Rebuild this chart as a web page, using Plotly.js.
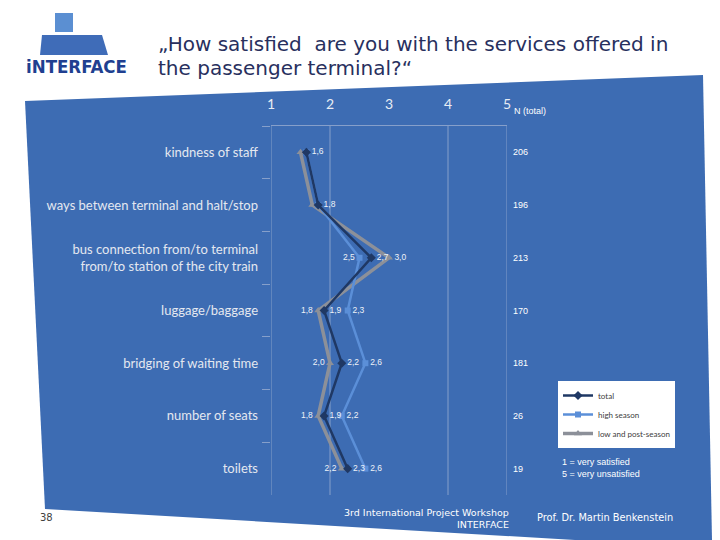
<!DOCTYPE html>
<html>
<head>
<meta charset="utf-8">
<script src="https://cdn.plot.ly/plotly-3.0.1.min.js"></script>
<style>html,body{margin:0;padding:0;background:#fff;}#chart{width:720px;height:540px;}</style>
</head>
<body>
<div id="chart"></div>
<script>
// ---- data ----
const categories = [
  "kindness of staff",
  "ways between terminal and halt/stop",
  "bus connection from/to terminal<br>from/to station of the city train",
  "luggage/baggage",
  "bridging of waiting time",
  "number of seats",
  "toilets"
];
const total      = [1.6, 1.8, 2.7, 1.9, 2.2, 1.9, 2.3];
const highSeason = [1.6, 1.8, 2.5, 2.3, 2.6, 2.2, 2.6];
const lowSeason  = [1.5, 1.7, 3.0, 1.8, 2.0, 1.8, 2.2];
const nTotal     = [206, 196, 213, 170, 181, 26, 19];
const xTickVals  = [1, 2, 3, 4, 5];
const seriesNames = ["total", "high season", "low and post-season"];

// ---- layout helpers (plot area in pixels) ----
const L = 271, R = 507, T = 126, B = 495;
const px = x => (x - L) / (R - L);
const py = y => (B - y) / (B - T);
const fmt = v => v.toFixed(1).replace('.', ',');

const showLabel = [false, false, true, true, true, true, true];
function labels(vals, showFirst) {
  return vals.map((v, i) => (showLabel[i] || (showFirst && i < 2)) ? fmt(v) : '');
}
const labelFont = {family: 'Liberation Sans, Arial, sans-serif', size: 8.5, color: '#eef2f8'};

// drawn low -> high -> total so that the total labels stay readable; legendrank keeps the legend order
const traces = [
  {
    name: seriesNames[2], legendrank: 3, x: lowSeason, y: categories, type: 'scatter', mode: 'lines+markers+text',
    line: {color: '#8c9099', width: 3.5},
    marker: {symbol: 'triangle-up', size: 7, color: '#8c9099'},
    text: labels(lowSeason, false),
    textposition: lowSeason.map((v, i) => i === 2 ? 'middle right' : 'middle left'),
    textfont: labelFont, cliponaxis: false
  },
  {
    name: seriesNames[1], legendrank: 2, x: highSeason, y: categories, type: 'scatter', mode: 'lines+markers+text',
    line: {color: '#5b8fd8', width: 2.5},
    marker: {symbol: 'square', size: 6, color: '#5b8fd8'},
    text: labels(highSeason, false),
    textposition: highSeason.map((v, i) => i === 2 ? 'middle left' : 'middle right'),
    textfont: labelFont, cliponaxis: false
  },
  {
    name: seriesNames[0], legendrank: 1, x: total, y: categories, type: 'scatter', mode: 'lines+markers+text',
    line: {color: '#1f3864', width: 2.5},
    marker: {symbol: 'diamond', size: 7, color: '#1f3864'},
    text: labels(total, true),
    textposition: total.map(() => 'middle right'),
    textfont: labelFont, cliponaxis: false
  }
];

const panelPts = [[25,101],[703,75],[712,540],[575,540],[45,509]];
const panelPath = 'M ' + panelPts.map(p => px(p[0]) + ',' + py(p[1])).join(' L ') + ' Z';
const logoPath = 'M ' + [[42,35],[102,35],[108,55],[40,55]].map(p => px(p[0]) + ',' + py(p[1])).join(' L ') + ' Z';

const shapes = [
  {type: 'path', xref: 'paper', yref: 'paper', path: panelPath, fillcolor: '#3d6cb3', line: {width: 0}, layer: 'below'},
  {type: 'rect', xref: 'paper', yref: 'paper', x0: px(55), x1: px(73), y0: py(32), y1: py(13), fillcolor: '#5b8fd2', line: {width: 0}},
  {type: 'path', xref: 'paper', yref: 'paper', path: logoPath, fillcolor: '#3f6cb8', line: {width: 0}}
];
// vertical gridlines (the reference shows none at 3)
[1, 2, 4, 5].forEach(v => shapes.push({
  type: 'line', xref: 'x', yref: 'paper', x0: v, x1: v, y0: 0, y1: 1,
  line: {color: '#869fca', width: 1}, layer: 'below'
}));

const titleFont = {family: 'DejaVu Sans, Verdana, sans-serif', size: 20, color: '#28305e'};
const annotations = [
  {xref: 'paper', yref: 'paper', x: px(156), y: py(44), xanchor: 'left', yanchor: 'middle', showarrow: false,
   text: '„How satisfied  are you with the services offered in', font: titleFont},
  {xref: 'paper', yref: 'paper', x: px(156), y: py(68), xanchor: 'left', yanchor: 'middle', showarrow: false,
   text: 'the passenger terminal?“', font: titleFont},
  {xref: 'paper', yref: 'paper', x: px(24), y: py(67), xanchor: 'left', yanchor: 'middle', showarrow: false,
   text: '<b>iNTERFACE</b>', font: {family: 'DejaVu Sans Condensed, DejaVu Sans, sans-serif', size: 18.5, color: '#203f90'}},
  {xref: 'paper', yref: 'paper', x: px(512), y: py(111), xanchor: 'left', yanchor: 'middle', showarrow: false,
   text: 'N (total)', font: {family: 'Liberation Sans, Arial, sans-serif', size: 9, color: '#ffffff'}},
  {xref: 'paper', yref: 'paper', x: px(560), y: py(468), xanchor: 'left', yanchor: 'middle', align: 'left', showarrow: false,
   text: '1 = very satisfied<br>5 = very unsatisfied', font: {family: 'Liberation Sans, Arial, sans-serif', size: 9, color: '#ffffff'}},
  {xref: 'paper', yref: 'paper', x: px(38), y: py(517), xanchor: 'left', yanchor: 'middle', showarrow: false,
   text: '38', font: {family: 'DejaVu Sans, Verdana, sans-serif', size: 10, color: '#404040'}},
  {xref: 'paper', yref: 'paper', x: px(511), y: py(518), xanchor: 'right', yanchor: 'middle', align: 'right', showarrow: false,
   text: '3rd International Project Workshop<br>INTERFACE', font: {family: 'DejaVu Sans, Verdana, sans-serif', size: 9.5, color: '#ffffff'}},
  {xref: 'paper', yref: 'paper', x: px(535), y: py(517), xanchor: 'left', yanchor: 'middle', showarrow: false,
   text: 'Prof. Dr. Martin Benkenstein', font: {family: 'DejaVu Sans, Verdana, sans-serif', size: 9.8, color: '#ffffff'}}
];
nTotal.forEach((n, i) => annotations.push({
  xref: 'paper', yref: 'y', x: px(511), y: categories[i], xanchor: 'left', yanchor: 'middle', showarrow: false,
  text: String(n), font: {family: 'Liberation Sans, Arial, sans-serif', size: 9, color: '#ffffff'}
}));

const layout = {
  width: 720, height: 540,
  margin: {l: L, r: 720 - R, t: T, b: 540 - B, pad: 0},
  paper_bgcolor: '#ffffff', plot_bgcolor: 'rgba(0,0,0,0)',
  showlegend: true,
  legend: {
    x: px(558), y: py(381), xanchor: 'left', yanchor: 'top',
    bgcolor: '#ffffff', borderwidth: 0, traceorder: 'normal',
    font: {family: 'Lato, sans-serif', size: 8, color: '#404040'},
    itemwidth: 30, tracegroupgap: 0
  },
  xaxis: {
    side: 'top', range: [1, 5], tickvals: xTickVals, showgrid: false, zeroline: false,
    showline: true, linecolor: '#869fca', linewidth: 1, ticks: '', ticklabelstandoff: 10,
    tickfont: {family: 'Lato, sans-serif', size: 14, color: '#e8ecf4'}
  },
  yaxis: {
    type: 'category', range: [6.5, -0.5], showgrid: false, zeroline: false, showline: false,
    ticks: 'outside', tickson: 'boundaries', ticklen: 8, tickcolor: '#869fca', ticklabelstandoff: 12,
    tickfont: {family: 'Lato, sans-serif', size: 13, color: '#e4e8f0'}
  },
  shapes: shapes,
  annotations: annotations
};

Plotly.newPlot('chart', traces, layout, {displayModeBar: false, staticPlot: true});
</script>
</body>
</html>
